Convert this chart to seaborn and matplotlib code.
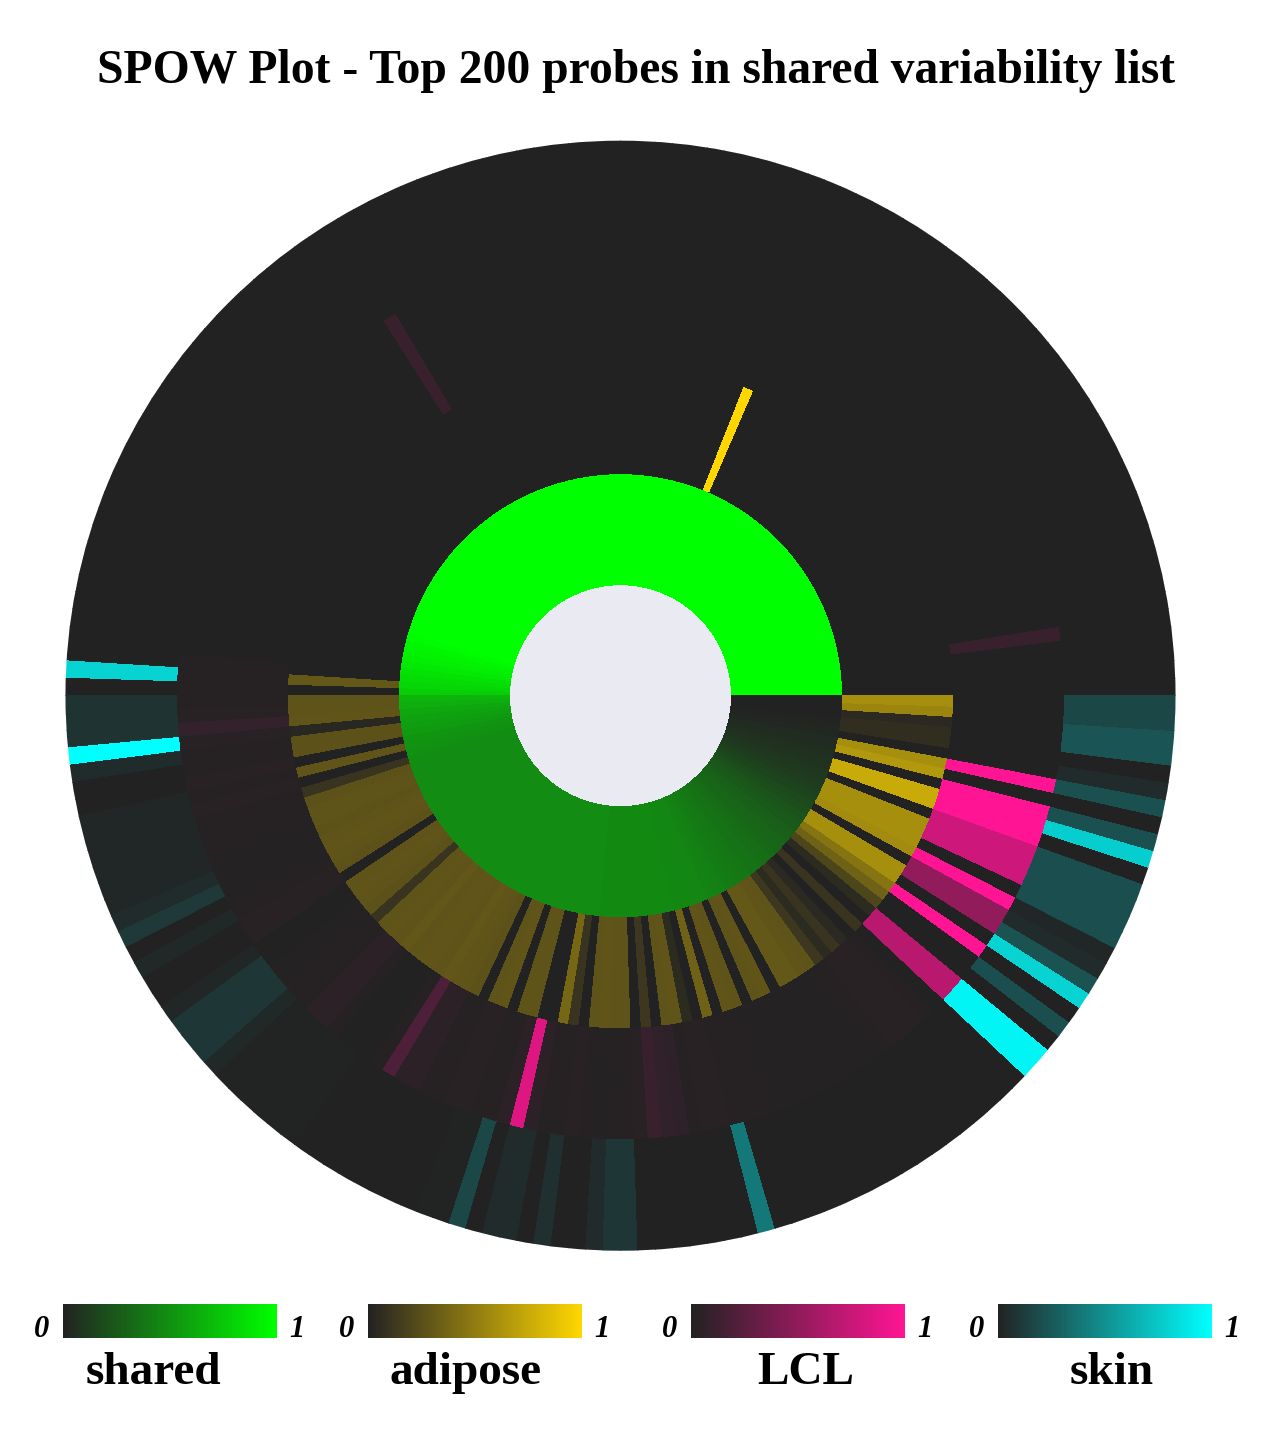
import numpy as np
import matplotlib
matplotlib.use('Agg')
import matplotlib.pyplot as plt
from matplotlib.colors import LinearSegmentedColormap, Normalize
from matplotlib.cm import ScalarMappable
import seaborn as sns

sns.set_theme(style='darkgrid')
plt.rcParams['font.family'] = ['Liberation Serif', 'DejaVu Serif']
plt.rcParams['text.color'] = 'black'

# 200 probes, one wedge each, counter-clockwise from 3 o'clock
shared = [
    1, 1, 1, 1, 1, 1, 1, 1, 1, 1,
    1, 1, 1, 1, 1, 1, 1, 1, 1, 1,
    1, 1, 1, 1, 1, 1, 1, 1, 1, 1,
    1, 1, 1, 1, 1, 1, 1, 1, 1, 1,
    1, 1, 1, 1, 1, 1, 1, 1, 1, 1,
    1, 1, 1, 1, 1, 1, 1, 1, 1, 1,
    1, 1, 1, 1, 1, 1, 1, 1, 1, 1,
    1, 1, 1, 1, 1, 1, 1, 1, 1, 1,
    1, 1, 1, 1, 1, 1, 1, 1, 1, 1,
    1, .98, .96, .94, .92, .90, .87, .84, .81, .78,
    .66, .63, .60, .58, .56, .54, .52, .51, .50, .49,
    .48, .48, .48, .48, .48, .48, .48, .48, .48, .48,
    .48, .48, .48, .48, .48, .48, .48, .48, .48, .48,
    .48, .48, .48, .48, .48, .48, .48, .48, .48, .48,
    .48, .48, .48, .48, .48, .48, .48, .47, .47, .47,
    .47, .47, .47, .47, .47, .47, .47, .47, .46, .46,
    .46, .45, .45, .44, .43, .42, .41, .40, .39, .38,
    .37, .36, .35, .34, .32, .31, .30, .28, .27, .25,
    .24, .22, .20, .18, .16, .14, .12, .10, .09, .08,
    .07, .06, .05, .04, .03, .02, .01, 0, 0, 0,
]

adipose = [
    0, 0, 0, 0, 0, 0, 0, 0, 0, 0,
    0, 0, 0, 0, 0, 0, 0, 0, 0, 0,
    0, 0, 0, 0, 0, 0, 0, 0, 0, 0,
    0, 0, 0, 0, 0, 0, 0, 1, 0, 0,
    0, 0, 0, 0, 0, 0, 0, 0, 0, 0,
    0, 0, 0, 0, 0, 0, 0, 0, 0, 0,
    0, 0, 0, 0, 0, 0, 0, 0, 0, 0,
    0, 0, 0, 0, 0, 0, 0, 0, 0, 0,
    0, 0, 0, 0, 0, 0, 0, 0, 0, 0,
    0, 0, 0, 0, 0, 0, 0, 0, .30, 0,
    .27, .27, .28, .03, .26, .26, 0, .28, 0, .10,
    .26, .27, .27, .26, .27, .28, .27, .26, 0, .27,
    .28, .27, .26, .10, .27, .28, .27, .29, .27, .28,
    .28, .27, .29, .28, .27, .26, 0, .27, .28, 0,
    .27, .27, 0, 0, .38, .10, 0, .27, .28, .27,
    .27, 0, .12, 0, .27, .28, .05, 0, .35, 0,
    .28, .27, 0, .27, .28, 0, .30, .30, .28, .27,
    .12, .05, .10, .04, 0, .10, 0, .05, .20, .35,
    .45, .60, .60, 0, .58, .60, .60, .60, 0, .75,
    .75, 0, .65, .60, 0, .07, .07, .04, .55, .60,
]

lcl = [
    0, 0, 0, 0, .10, 0, 0, 0, 0, 0,
    0, 0, 0, 0, 0, 0, 0, 0, 0, 0,
    0, 0, 0, 0, 0, 0, 0, 0, 0, 0,
    0, 0, 0, 0, 0, 0, 0, 0, 0, 0,
    0, 0, 0, 0, 0, 0, 0, 0, 0, 0,
    0, 0, 0, 0, 0, 0, 0, 0, 0, 0,
    0, 0, 0, 0, 0, 0, 0, .10, 0, 0,
    0, 0, 0, 0, 0, 0, 0, 0, 0, 0,
    0, 0, 0, 0, 0, 0, 0, 0, 0, 0,
    0, 0, 0, 0, 0, 0, 0, .02, .02, .02,
    .02, .03, .08, .03, .02, .02, .03, .02, .03, .02,
    .02, .02, .01, .01, .01, .01, .02, .03, .03, 0,
    0, .01, .01, .02, .02, .05, .05, .02, 0, 0,
    0, .02, .20, .04, .04, .02, .02, .03, .03, .02,
    .02, .04, .85, .05, .02, .02, .03, .02, .01, .01,
    .02, .03, .10, .07, .06, .02, .03, .03, .02, .02,
    .02, .01, .01, .01, .01, .01, .01, .01, .01, .01,
    .02, .03, .03, .03, .02, 0, .68, .68, 0, 0,
    1, 0, .50, .50, 1, 0, .78, .78, .78, 1,
    1, 1, 0, 1, 0, 0, 0, 0, 0, 0,
]

skin = [
    0, 0, 0, 0, 0, 0, 0, 0, 0, 0,
    0, 0, 0, 0, 0, 0, 0, 0, 0, 0,
    0, 0, 0, 0, 0, 0, 0, 0, 0, 0,
    0, 0, 0, 0, 0, 0, 0, 0, 0, 0,
    0, 0, 0, 0, 0, 0, 0, 0, 0, 0,
    0, 0, 0, 0, 0, 0, 0, 0, 0, 0,
    0, 0, 0, 0, 0, 0, 0, 0, 0, 0,
    0, 0, 0, 0, 0, 0, 0, 0, 0, 0,
    0, 0, 0, 0, 0, 0, 0, 0, 0, 0,
    0, 0, 0, 0, 0, 0, 0, 0, .80, 0,
    .08, .08, .08, 1, .05, 0, 0, .02, .02, .02,
    .02, .02, .02, .05, .10, 0, .03, 0, 0, .02,
    .09, .09, .09, .03, .01, .01, .01, .01, .01, .01,
    0, 0, 0, 0, 0, 0, 0, 0, .01, .01,
    .17, 0, .04, .05, 0, .06, 0, 0, .04, .09,
    .09, 0, 0, 0, 0, 0, 0, 0, .39, 0,
    0, 0, 0, 0, 0, 0, 0, 0, 0, 0,
    0, 0, 0, 0, 0, 0, .95, .95, 0, .20,
    0, .80, .22, .04, .02, .20, .20, .20, .20, 0,
    .78, .21, 0, .21, .04, 0, .23, .23, .17, .17,
]

ring_names = ['shared', 'adipose', 'LCL', 'skin']
ring_values = [shared, adipose, lcl, skin]
ring_high = ['#00FF00', '#FFD700', '#FF1493', '#00FFFF']
low_color = '#222222'

cmaps = [LinearSegmentedColormap.from_list(n, [low_color, c]) for n, c in zip(ring_names, ring_high)]

fig = plt.figure(figsize=(12.88, 14.4), dpi=100)

# polar axes: centre (620, 696) px, radius 555 px
ax = fig.add_axes([65.5 / 1288, 1 - 1250.7 / 1440, 1110 / 1288, 1110 / 1440], projection='polar')
n = len(shared)
step = 2 * np.pi / n
theta = np.arange(n) * step
for i, (vals, cmap) in enumerate(zip(ring_values, cmaps)):
    ax.bar(theta, 1, width=step, bottom=i + 1, align='edge',
           color=cmap(np.array(vals, dtype=float)), edgecolor='none', linewidth=0, antialiased=False)
ax.set_ylim(0, 5)
ax.set_xticks([])
ax.set_yticks([])
ax.grid(False)
ax.spines['polar'].set_visible(False)

fig.text(636.5 / 1288, 1 - 71 / 1440, 'SPOW Plot - Top 200 probes in shared variability list',
         ha='center', va='center', fontsize=34.3, fontweight='bold', color='black')

# colour keys along the bottom
bar_left = [63, 368, 691, 998]
label_x = [153, 466, 806, 1112]
bar_w = 214
for name, cmap, left, lx in zip(ring_names, cmaps, bar_left, label_x):
    cax = fig.add_axes([left / 1288, 1 - 1338 / 1440, bar_w / 1288, 34 / 1440])
    cb = fig.colorbar(ScalarMappable(norm=Normalize(0, 1), cmap=cmap), cax=cax, orientation='horizontal')
    cb.set_ticks([])
    cb.outline.set_visible(False)
    cax.grid(False)
    fig.text((left - 21) / 1288, 1 - 1337 / 1440, '0', ha='center', va='baseline', color='black',
             fontsize=22, fontweight='bold', fontstyle='italic')
    fig.text((left + bar_w + 20) / 1288, 1 - 1337 / 1440, '1', ha='center', va='baseline', color='black',
             fontsize=22, fontweight='bold', fontstyle='italic')
    fig.text(lx / 1288, 1 - 1384 / 1440, name, ha='center', va='baseline', color='black',
             fontsize=34, fontweight='bold')

fig.savefig('out.png', dpi=100)
